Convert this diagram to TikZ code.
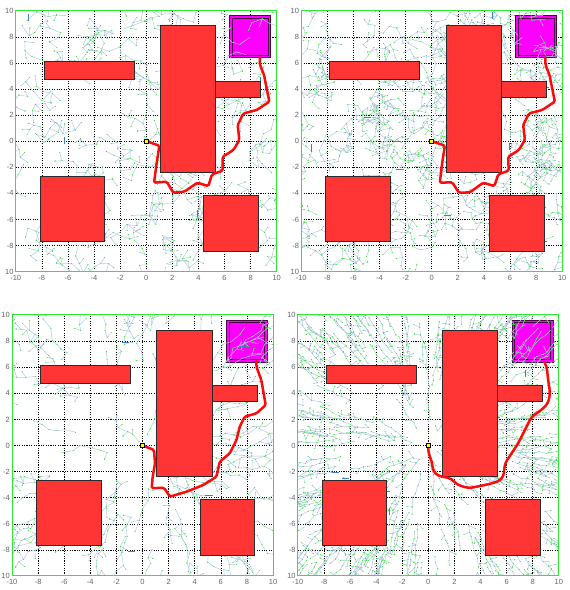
\documentclass[tikz,border=0pt]{standalone}
\usepackage{fontspec}
\setmainfont{Liberation Sans}
\definecolor{obst}{HTML}{FF3535}
\definecolor{obstline}{HTML}{2A2A2A}
\definecolor{goalfill}{HTML}{FF00FF}
\definecolor{goalline}{HTML}{4A0848}
\definecolor{framegreen}{HTML}{30E830}
\definecolor{edgecol}{HTML}{B2CDDF}
\definecolor{dotcol}{HTML}{45E045}
\definecolor{darkedge}{HTML}{3C82BE}
\definecolor{lblcol}{HTML}{5E6470}
\definecolor{pathred}{HTML}{FF0A0A}
\definecolor{startyel}{HTML}{FFFF00}
\tikzset{
 gridline/.style={black, line width=0.55pt, dash pattern=on 1.1pt off 1.3pt},
 obstacle/.style={fill=obst, draw=obstline, line width=0.8pt},
 edge/.style={edgecol, line width=0.5pt},
 dotline/.style={dotcol, line width=1.1pt, line cap=round},
 darkbit/.style={darkedge, line width=0.8pt},
 pathline/.style={pathred, line width=2.5pt, line join=round, line cap=round},
 startbox/.style={draw=black, fill=startyel, minimum size=4pt, inner sep=0pt, line width=0.6pt},
 ticklbl/.style={font=\fontsize{7.5}{8}\selectfont, text=lblcol, inner sep=0.5pt},
 frameline/.style={framegreen, line width=1pt},
}
% tree made of branching walks: walks, steps, noise, length, radial(1)/random(0)
\newcommand\walktree[5]{%
\foreach \wi in {1,...,#1}{%
 \pgfmathsetmacro\rrX{rand*10.3}%
 \pgfmathsetmacro\rrY{rand*10.3}%
 \pgfmathsetmacro\rrA{rnd*360}%
 \xdef\rrX{\rrX}\xdef\rrY{\rrY}\xdef\rrA{\rrA}%
 \xdef\rrE{}%
 \xdef\rrD{(\rrX,\rrY) -- ++(0.01,0)}%
 \foreach \wj in {1,...,#2}{%
  \ifnum#5=1 \pgfmathsetmacro\rrA{atan2(\rrY,\rrX)}\fi
  \pgfmathsetmacro\rrB{\rrA+rand*#3}%
  \pgfmathsetmacro\rrL{#4*(0.6+0.8*rnd)}%
  \pgfmathtruncatemacro\rrT{rnd<0.45 ? 1 : 0}%
  \ifnum\rrT=1
    \pgfmathsetmacro\rrC{\rrB+(rnd<0.5 ? 1 : -1)*(40+50*rnd)}%
    \pgfmathsetmacro\rrM{#4*(0.5+0.6*rnd)}%
    \pgfmathsetmacro\rrP{\rrX+\rrM*cos(\rrC)}%
    \pgfmathsetmacro\rrQ{\rrY+\rrM*sin(\rrC)}%
    \xdef\rrE{\rrE (\rrX,\rrY) -- (\rrP,\rrQ)}%
    \xdef\rrD{\rrD (\rrP,\rrQ) -- ++(0.01,0)}%
  \fi
  \pgfmathsetmacro\rrU{\rrX+\rrL*cos(\rrB)}%
  \pgfmathsetmacro\rrV{\rrY+\rrL*sin(\rrB)}%
  \xdef\rrE{\rrE (\rrX,\rrY) -- (\rrU,\rrV)}%
  \xdef\rrD{\rrD (\rrU,\rrV) -- ++(0.01,0)}%
  \xdef\rrX{\rrU}\xdef\rrY{\rrV}\xdef\rrA{\rrB}%
 }%
 \draw[edge] \rrE;
 \draw[dotline] \rrD;
}}
\newcommand\darkbits[1]{%
\foreach \wi in {1,...,#1}{%
 \pgfmathsetmacro\rrX{rand*9.5}%
 \pgfmathsetmacro\rrY{rand*9.5}%
 \pgfmathsetmacro\rrA{90*round(rnd)}%
 \draw[darkbit] (\rrX,\rrY) -- ++(\rrA:0.55);
}}
% panel: prefix, tree code, path points, goal end point, corner rounding
\newcommand\panelbody[5]{%
 \foreach \g in {-8,-6,...,8}{%
   \draw[gridline] (\g,-10) -- (\g,10);
   \draw[gridline] (-10,\g) -- (10,\g);
 }
 \fill[goalfill] (6.42,6.38) rectangle (9.56,9.6);
 \draw[goalline, line width=1pt] (6.42,6.38) rectangle (9.56,9.6);
 \draw[goalline, line width=0.7pt] (6.62,6.58) rectangle (9.36,9.4);
 \begin{scope}
  \clip (-10,-10) rectangle (10,10);
  #2
 \end{scope}
 \draw[obstacle] (1.1,-2.4) rectangle (5.32,8.85);
 \draw[obstacle] (5.32,3.35) rectangle (8.78,4.6);
 \draw[obstacle] (-7.83,4.75) rectangle (-0.93,6.12);
 \draw[obstacle] (-8.14,-7.65) rectangle (-3.18,-2.69);
 \draw[obstacle] (4.4,-8.42) rectangle (8.6,-4.15);
 \coordinate (#1o) at (0,0);
 \coordinate (#1g) at #4;
 \draw[pathline, rounded corners=#5] (#1o) -- #3 -- (#1g);
 \node[startbox] (#1s) at (#1o) {};
 \draw[frameline] (-10,-10) rectangle (10,10);
 \foreach \v [count=\k] in {-8,-6,...,8}{%
   \node[ticklbl, anchor=east, xshift=-1.5pt] (#1y\k) at (-10,\v) {\v};
 }
 \node[ticklbl, anchor=east, xshift=-1.5pt] (#1ytop) at (-10,10) {10};
 \node[ticklbl, anchor=east, xshift=-1.5pt] (#1ybot) at (-10,-10) {10};
 \foreach \v [count=\k] in {-10,-8,...,10}{%
   \node[ticklbl, anchor=north, yshift=-3pt] (#1x\k) at (\v,-10) {\v};
 }
}
\begin{document}
\begin{tikzpicture}[x=1pt,y=1pt]
\fill[white] (0,0) rectangle (570,590);
\useasboundingbox (0,0) rectangle (570,590);
% panel 1
\begin{scope}[shift={(146.2pt,448.8pt)}, x=13.05pt, y=13.05pt]
\pgfmathsetseed{1234}
\panelbody{pa}{\walktree{120}{4}{95}{0.7}{0}\darkbits{5}}%
 {(1.01,-0.34) -- (0.8,-1.7) -- (0.6,-3.18) -- (1.57,-3.1) -- (2.08,-3.95) -- (2.92,-3.87) -- (3.92,-3.18) -- (4.76,-3.44) -- (5.04,-2.54) -- (5.86,-2.26) -- (5.86,-1.19) -- (6.68,-0.68) -- (7.14,0.09) -- (7.01,1.24) -- (7.45,2.13) -- (8.47,2.39) -- (9.44,3.03) -- (9.23,4.05) -- (9.03,5.07) -- (8.72,5.84)}%
 {(8.72,6.42)}{1.5pt}
\end{scope}
% panel 2
\begin{scope}[shift={(431.7pt,448.8pt)}, x=13.05pt, y=13.05pt]
\pgfmathsetseed{5678}
\panelbody{pb}{\walktree{230}{5}{95}{0.6}{0}\darkbits{12}}%
 {(1.01,-0.34) -- (0.8,-1.7) -- (0.62,-3.18) -- (1.57,-3.15) -- (2.08,-3.95) -- (2.92,-3.92) -- (3.95,-3.18) -- (4.8,-3.44) -- (5.1,-2.54) -- (5.9,-2.26) -- (5.86,-1.19) -- (6.68,-0.68) -- (7.14,0.09) -- (7.01,1.24) -- (7.45,2.13) -- (8.47,2.39) -- (9.44,3.03) -- (9.23,4.05) -- (9.03,5.07) -- (8.72,5.84)}%
 {(8.72,6.42)}{1.5pt}
\end{scope}
% panel 3
\begin{scope}[shift={(142.5pt,144.5pt)}, x=13.05pt, y=13.05pt]
\pgfmathsetseed{4321}
\panelbody{pc}{\walktree{120}{5}{40}{0.7}{1}\darkbits{5}}%
 {(0.88,-0.34) -- (0.96,-1.37) -- (0.78,-2.39) -- (0.7,-3.28) -- (1.64,-3.23) -- (2.1,-3.92) -- (3.38,-3.54) -- (4.65,-3.03) -- (5.67,-2.39) -- (5.92,-1.24) -- (6.69,-0.6) -- (7.2,0.42) -- (7.45,1.44) -- (7.83,2.21) -- (8.73,2.46) -- (9.44,3.1) -- (9.24,4.25) -- (9.1,5.02) -- (8.73,6.04)}%
 {(8.73,6.5)}{1.5pt}
\end{scope}
% panel 4
\begin{scope}[shift={(428.3pt,144.5pt)}, x=13.05pt, y=13.05pt]
\pgfmathsetseed{8765}
\panelbody{pd}{\walktree{330}{6}{20}{0.5}{1}\darkbits{12}}%
 {(0,-0.6) -- (0.26,-1.16) -- (0.38,-2.0) -- (0.77,-2.34) -- (1.79,-2.52) -- (2.09,-2.95) -- (3.06,-3.28) -- (4.34,-3.03) -- (5.36,-2.77) -- (5.77,-2.39) -- (5.87,-1.37) -- (6.38,-0.6) -- (6.89,0.17) -- (7.4,1.19) -- (7.91,2.21) -- (8.67,2.72) -- (9.18,3.23) -- (9.34,4.0) -- (9.18,5.02) -- (9.08,6.04)}%
 {(8.88,6.42)}{4pt}
\end{scope}
\end{tikzpicture}
\end{document}
